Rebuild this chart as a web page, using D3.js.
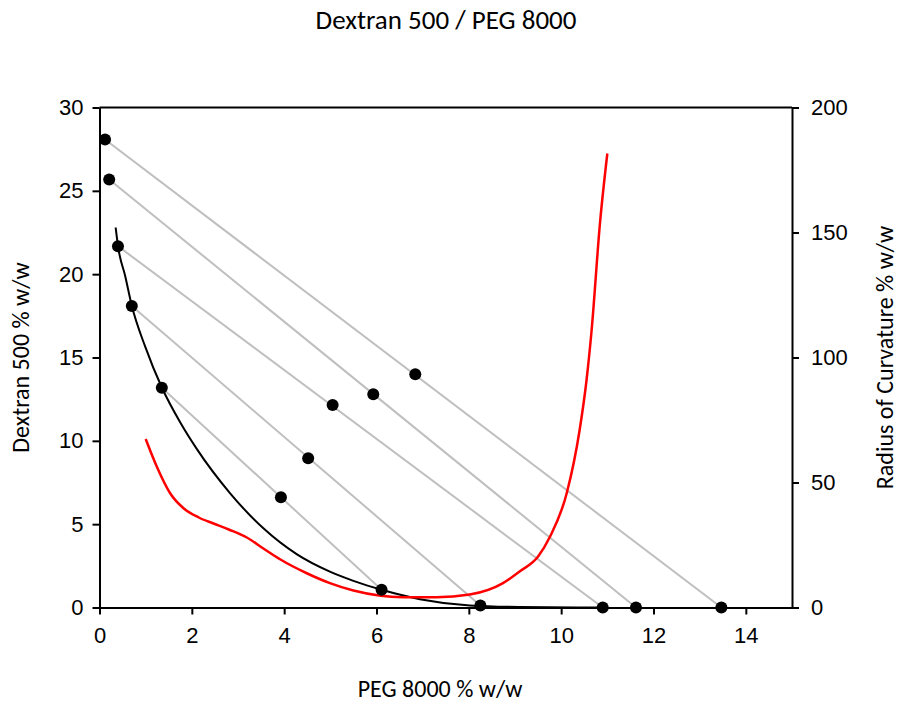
<!DOCTYPE html>
<html>
<head>
<meta charset="utf-8">
<script src="https://cdn.jsdelivr.net/npm/d3@7"></script>
<style>
  body { margin: 0; background: #fff; }
  svg text { fill: #000; }
</style>
</head>
<body>
<svg width="899" height="706"></svg>
<script>
// top phase, total composition, bottom phase  [PEG, Dextran]
const topPhase = [[0.12, 28.08], [0.21, 25.68], [0.40, 21.68], [0.70, 18.09], [1.35, 13.19]];
const totalMix = [[6.84, 14.0], [5.93, 12.8], [5.05, 12.15], [4.52, 8.96], [3.93, 6.62]];
const bottomPhase = [[13.47, 0], [11.62, 0], [10.90, 0], [8.25, 0.12], [6.11, 1.06]];

// binodal curve
const binodal = [[0.35, 22.8], [0.40, 21.7], [0.56, 19.85], [0.70, 18.1], [0.99, 15.65], [1.35, 13.2],
  [1.75, 11.1], [2.11, 9.5], [2.83, 6.85], [3.55, 4.75], [4.27, 3.2], [4.99, 2.15], [5.5, 1.6],
  [6.11, 1.06], [6.94, 0.5], [8.02, 0.12], [9.1, 0.03], [11.0, 0]];

// radius of curvature (right axis)
const radius = [[1.00, 67.4], [1.24, 56.4], [1.53, 45.7], [1.82, 39.7], [2.15, 36.0], [2.47, 33.6],
  [2.8, 31.2], [3.19, 28.0], [3.55, 23.6], [3.91, 19.3], [4.49, 13.7], [4.99, 9.75], [5.5, 6.8],
  [6.58, 4.15], [7.3, 4.15], [8.02, 5.2], [8.74, 9.75], [9.1, 14.4], [9.5, 20.4], [9.76, 28.4],
  [10.12, 45.7], [10.4, 71], [10.55, 91], [10.66, 111], [10.84, 153.6], [11.0, 181.6]];

const xTicks = [0, 2, 4, 6, 8, 10, 12, 14];
const yTicks = [0, 5, 10, 15, 20, 25, 30];
const y2Ticks = [0, 50, 100, 150, 200];

const margin = {top: 107.5, right: 107, bottom: 98.5, left: 99.5};
const width = 899 - margin.left - margin.right;
const height = 706 - margin.top - margin.bottom;

const svg = d3.select("svg");
const g = svg.append("g").attr("transform", `translate(${margin.left}, ${margin.top})`);

const x = d3.scaleLinear().domain([0, 15]).range([0, width]);
const y = d3.scaleLinear().domain([0, 30]).range([height, 0]);
const y2 = d3.scaleLinear().domain([0, 200]).range([height, 0]);

const tickFont = "Arial, 'Liberation Sans', sans-serif";
const labelFont = "Carlito, 'Open Sans', 'Noto Sans', sans-serif";

// tie lines
g.selectAll(".tie").data(topPhase).enter().append("line")
  .attr("x1", d => x(d[0])).attr("y1", d => y(d[1]))
  .attr("x2", (d, i) => x(bottomPhase[i][0])).attr("y2", (d, i) => y(bottomPhase[i][1]))
  .attr("stroke", "#bfbfbf").attr("stroke-width", 2);

// binodal
g.append("path").datum(binodal)
  .attr("fill", "none").attr("stroke", "#000").attr("stroke-width", 2)
  .attr("d", d3.line().x(d => x(d[0])).y(d => y(d[1])).curve(d3.curveMonotoneX));

// radius of curvature
g.append("path").datum(radius)
  .attr("fill", "none").attr("stroke", "#ff0000").attr("stroke-width", 2.5)
  .attr("d", d3.line().x(d => x(d[0])).y(d => y2(d[1])).curve(d3.curveMonotoneX));

// dots
const dots = topPhase.concat(totalMix, bottomPhase);
g.selectAll(".dot").data(dots).enter().append("circle")
  .attr("cx", d => x(d[0])).attr("cy", d => y(d[1])).attr("r", 6).attr("fill", "#000");

// frame top
g.append("line").attr("x1", 0).attr("x2", width).attr("y1", 0).attr("y2", 0)
  .attr("stroke", "#000").attr("stroke-width", 2);

// axes
const xAxis = g.append("g").attr("transform", `translate(0, ${height})`)
  .call(d3.axisBottom(x).tickValues(xTicks).tickSize(7).tickSizeOuter(0));
const yAxis = g.append("g")
  .call(d3.axisLeft(y).tickValues(yTicks).tickSize(7).tickSizeOuter(0));
const y2Axis = g.append("g").attr("transform", `translate(${width}, 0)`)
  .call(d3.axisRight(y2).tickValues(y2Ticks).tickSize(7).tickSizeOuter(0));

[xAxis, yAxis, y2Axis].forEach(a => {
  a.selectAll("path, line").attr("stroke", "#000").attr("stroke-width", 2);
  a.selectAll("text").attr("font-family", tickFont).attr("font-size", "22px").attr("fill", "#000");
});
xAxis.selectAll("text").attr("y", 28).attr("dy", "0.32em");
yAxis.selectAll("text").attr("x", -16);
y2Axis.selectAll("text").attr("x", 19);

// titles
svg.append("text").attr("x", 446).attr("y", 29)
  .attr("text-anchor", "middle").attr("font-family", labelFont).attr("font-size", "27px")
  .text("Dextran 500 / PEG 8000");

svg.append("text").attr("x", 440).attr("y", 697)
  .attr("text-anchor", "middle").attr("font-family", labelFont).attr("font-size", "24px")
  .text("PEG 8000 % w/w");

svg.append("text").attr("transform", `translate(29, ${margin.top + height / 2}) rotate(-90)`)
  .attr("text-anchor", "middle").attr("font-family", labelFont).attr("font-size", "24px")
  .text("Dextran 500 % w/w");

svg.append("text").attr("transform", `translate(893, ${margin.top + height / 2}) rotate(-90)`)
  .attr("text-anchor", "middle").attr("font-family", labelFont).attr("font-size", "24px")
  .text("Radius of Curvature % w/w");
</script>
</body>
</html>
